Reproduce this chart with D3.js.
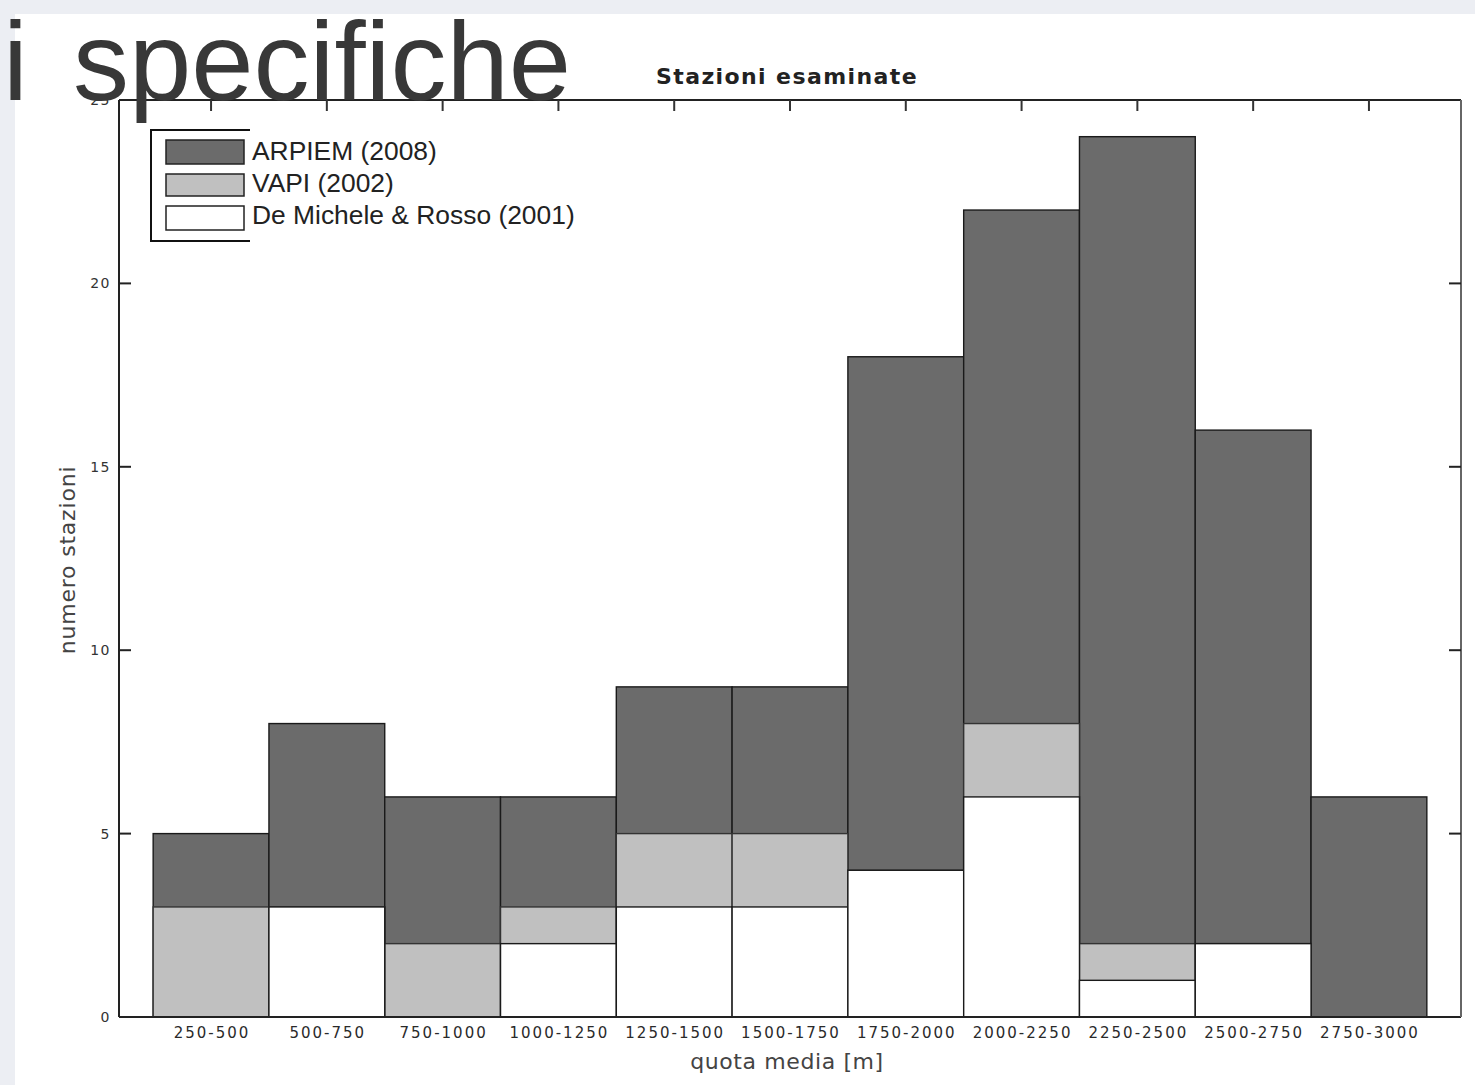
<!DOCTYPE html>
<html>
<head>
<meta charset="utf-8">
<script src="https://cdn.jsdelivr.net/npm/d3@7"></script>
<style>
  html, body { margin: 0; padding: 0; background: #eceef3; }
  svg { display: block; }
</style>
</head>
<body>
<svg id="chart" width="1475" height="1085"></svg>
<script>
// ---- data ----
const categories = ["250-500","500-750","750-1000","1000-1250","1250-1500","1500-1750","1750-2000","2000-2250","2250-2500","2500-2750","2750-3000"];
const tickLabels = ["250-500","500-750","750-1000","1000-1250","1250-1500","1500-1750","1750-2000","2000-2250","2250-2500","2500-2750","2750-3000"];
const arpiem   = [5, 8, 6, 6, 9, 9, 18, 22, 24, 16, 6];
const vapi     = [3, 3, 2, 3, 5, 5, 4, 8, 2, 2, 0];
const deMichele = [0, 3, 0, 2, 3, 3, 4, 6, 1, 2, 0];
const seriesNames = ["ARPIEM (2008)", "VAPI (2002)", "De Michele & Rosso (2001)"];
const yTicks = [0, 5, 10, 15, 20, 25];

(function () {
const svg = d3.select("#chart");
const W = 1475, H = 1085;

// slide background
svg.append("rect").attr("x", 0).attr("y", 0).attr("width", W).attr("height", H).attr("fill", "#eceef3");
svg.append("rect").attr("x", 15).attr("y", 14).attr("width", W - 15).attr("height", H - 14).attr("fill", "#ffffff");

const pL = 119, pR = 1461, pT = 100, pB = 1017;
const x = d3.scaleBand().domain(categories).range([pL, pR]).paddingInner(0).paddingOuter(0.295);
const y = d3.scaleLinear().domain([0, 25]).range([pB, pT]);

const colors = ["#6b6b6b", "#c0c0c0", "#ffffff"];
const strokes = ["#1a1a1a", "#333", "#1a1a1a"];
const series = [arpiem, vapi, deMichele];

const g = svg.append("g");
series.forEach((vals, si) => {
  g.append("g").selectAll("rect")
    .data(categories.map((c, i) => ({ c, v: vals[i] })).filter(d => d.v > 0))
    .join("rect")
    .attr("x", d => x(d.c))
    .attr("y", d => y(d.v))
    .attr("width", x.bandwidth())
    .attr("height", d => y(0) - y(d.v))
    .attr("fill", colors[si])
    .attr("stroke", strokes[si])
    .attr("stroke-width", 1.4);
});

// axes box
const axisColor = "#222";
const axG = svg.append("g");
axG.append("line").attr("x1", pL).attr("x2", pR).attr("y1", pB).attr("y2", pB).attr("stroke", axisColor).attr("stroke-width", 2);
axG.append("line").attr("x1", pL).attr("x2", pR).attr("y1", pT).attr("y2", pT).attr("stroke", axisColor).attr("stroke-width", 2);
axG.append("line").attr("x1", pL).attr("x2", pL).attr("y1", pT).attr("y2", pB).attr("stroke", axisColor).attr("stroke-width", 2);
axG.append("line").attr("x1", pR).attr("x2", pR).attr("y1", pT).attr("y2", pB).attr("stroke", "#666").attr("stroke-width", 2);

// y ticks (left + right, inward)
const tickFont = "'DejaVu Sans', sans-serif";
yTicks.forEach(t => {
  if (t > 0 && t < 25) {
    axG.append("line").attr("x1", pL).attr("x2", pL + 12).attr("y1", y(t)).attr("y2", y(t)).attr("stroke", axisColor).attr("stroke-width", 2);
    axG.append("line").attr("x1", pR).attr("x2", pR - 12).attr("y1", y(t)).attr("y2", y(t)).attr("stroke", axisColor).attr("stroke-width", 2);
  }
  axG.append("text").attr("x", 111).attr("y", y(t) + 5)
    .attr("text-anchor", "end").attr("font-family", tickFont).attr("font-size", 14)
    .attr("letter-spacing", 1.5).attr("fill", "#333").text(t);
});

// x ticks (top, inward) and labels
categories.forEach((c, i) => {
  const cx = x(c) + x.bandwidth() / 2;
  axG.append("line").attr("x1", cx).attr("x2", cx).attr("y1", pT).attr("y2", pT + 11).attr("stroke", "#333").attr("stroke-width", 2);
  axG.append("text").attr("x", cx + 1).attr("y", 1038)
    .attr("text-anchor", "middle").attr("font-family", tickFont).attr("font-size", 15)
    .attr("letter-spacing", 2).attr("fill", "#2a2a2a").text(tickLabels[i]);
});

// axis labels
svg.append("text").attr("x", 787).attr("y", 1069).attr("text-anchor", "middle")
  .attr("font-family", tickFont).attr("font-size", 22).attr("letter-spacing", 0.6)
  .attr("fill", "#444").text("quota media [m]");
svg.append("text").attr("transform", "translate(75,560) rotate(-90)").attr("text-anchor", "middle")
  .attr("font-family", tickFont).attr("font-size", 22).attr("letter-spacing", 0.8)
  .attr("fill", "#444").text("numero stazioni");

// chart title
svg.append("text").attr("x", 787).attr("y", 84).attr("text-anchor", "middle")
  .attr("font-family", tickFont).attr("font-weight", "bold").attr("font-size", 22)
  .attr("letter-spacing", 1.4).attr("fill", "#222").text("Stazioni esaminate");

// legend
const lg = svg.append("g");
lg.append("rect").attr("x", 151).attr("y", 130).attr("width", 110).attr("height", 111)
  .attr("fill", "#fff").attr("stroke", "#111").attr("stroke-width", 2);
const swY = [140, 174, 206];
const swH = [24, 22, 24];
seriesNames.forEach((n, i) => {
  lg.append("rect").attr("x", 166).attr("y", swY[i]).attr("width", 78).attr("height", swH[i])
    .attr("fill", colors[i]).attr("stroke", "#222").attr("stroke-width", 1.5);
});
// text overlay with white background covering the legend box's right part
lg.append("rect").attr("x", 250).attr("y", 128).attr("width", 335).attr("height", 115).attr("fill", "#fff");
const txtY = [160, 192, 224];
seriesNames.forEach((n, i) => {
  lg.append("text").attr("x", 252).attr("y", txtY[i])
    .attr("font-family", "'Liberation Sans', Arial, sans-serif").attr("font-size", 26.4)
    .attr("fill", "#222").text(n);
});

// big slide title overlapping the chart
svg.append("text").attr("x", 571).attr("y", 100).attr("text-anchor", "end")
  .attr("font-family", "'Liberation Sans', Arial, sans-serif").attr("font-size", 112)
  .attr("word-spacing", 14)
  .attr("fill", "#383838").text("i specifiche");
})();
</script>
</body>
</html>
